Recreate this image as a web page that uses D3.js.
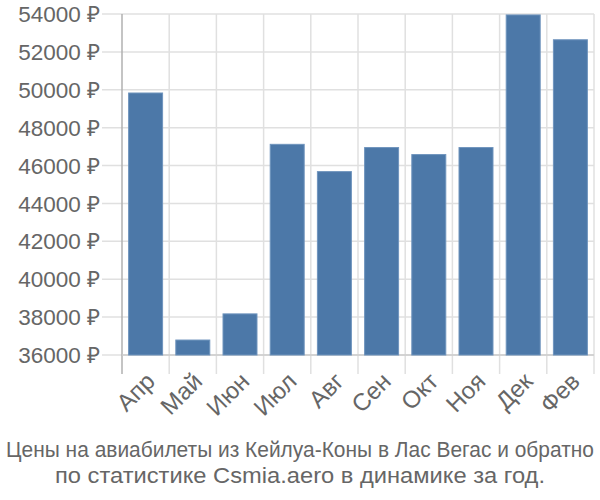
<!DOCTYPE html>
<html><head><meta charset="utf-8">
<script src="https://cdn.jsdelivr.net/npm/d3@7"></script>
<style>body{margin:0;background:#fff}</style>
</head><body>
<svg id="c" width="600" height="500"></svg>
<script>
const months = ["Апр","Май","Июн","Июл","Авг","Сен","Окт","Ноя","Дек","Фев"];
const prices = [49830, 36790, 38170, 47120, 45680, 46950, 46580, 46950, 53950, 52640];
const yTicks = [36000,38000,40000,42000,44000,46000,48000,50000,52000,54000];
const titleLines = ["Цены на авиабилеты из Кейлуа-Коны в Лас Вегас и обратно","по статистике Csmia.aero в динамике за год."];

const svg = d3.select("#c");
const L=122,R=594,T=14,B=355;
const x = d3.scaleBand().domain(months).range([L,R]).paddingInner(0.28).paddingOuter(0.14);
const y = d3.scaleLinear().domain([36000,54000]).range([B,T]);
const font = "'Liberation Sans', Arial, sans-serif";

// horizontal grid
svg.append("g").selectAll("line").data(yTicks).join("line")
  .attr("x1",102).attr("x2",R).attr("y1",d=>y(d)).attr("y2",d=>y(d))
  .attr("stroke","#e0e0e0").attr("stroke-width",1.5);
// vertical grid (band boundaries)
const bounds = d3.range(months.length+1).map(i=>L+i*x.step());
svg.append("g").selectAll("line").data(bounds).join("line")
  .attr("x1",d=>d).attr("x2",d=>d).attr("y1",T).attr("y2",B+19)
  .attr("stroke",(d,i)=>i===0?"#b0b0b0":"#e0e0e0").attr("stroke-width",1.5);
// bottom axis line
svg.append("line").attr("x1",L).attr("x2",R).attr("y1",B).attr("y2",B).attr("stroke","#cccccc").attr("stroke-width",1.5);

// bars
svg.append("g").selectAll("rect").data(prices).join("rect")
  .attr("x",(d,i)=>x(months[i])).attr("width",x.bandwidth())
  .attr("y",d=>y(d)).attr("height",d=>B-y(d))
  .attr("fill","#4c78a8").attr("stroke","#6f94bd").attr("stroke-width",1);

// y labels
svg.append("g").selectAll("text").data(yTicks).join("text")
  .attr("x",100).attr("y",d=>y(d)).attr("dy","0.36em").attr("text-anchor","end")
  .attr("font-family",font).attr("font-size",22.5).attr("fill","#666")
  .text(d=>d+" ₽");
// x labels
svg.append("g").selectAll("text").data(months).join("text")
  .attr("transform",d=>`translate(${x(d)+x.bandwidth()/2-1},${B+16}) rotate(-45)`)
  .attr("text-anchor","end").attr("dy","0.7em")
  .attr("font-family",font).attr("font-size",24).attr("fill","#666")
  .text(d=>d);
// title
const targets = [588, 490];
svg.append("g").selectAll("text").data(titleLines).join("text")
  .attr("text-anchor","middle")
  .attr("font-family",font).attr("font-size",22).attr("fill","#666")
  .text(d=>d)
  .each(function(d,i){
    const w = this.getComputedTextLength();
    const sx = targets[i]/w;
    d3.select(this).attr("transform",`translate(300,${457+i*26}) scale(${sx},1)`);
  });
</script>
</body></html>
